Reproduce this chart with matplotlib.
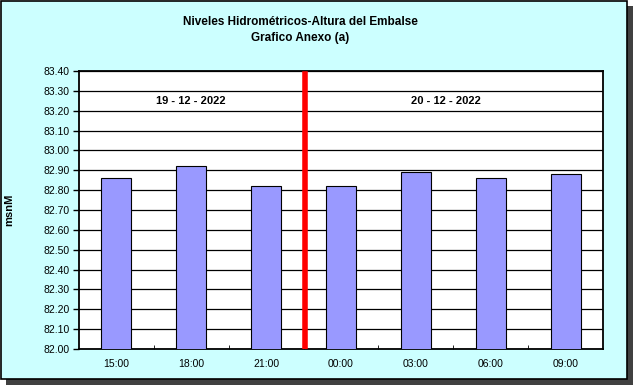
import matplotlib.pyplot as plt
from matplotlib.patches import Rectangle

# data
horas = ["15:00", "18:00", "21:00", "00:00", "03:00", "06:00", "09:00"]
niveles = [82.86, 82.92, 82.82, 82.82, 82.89, 82.86, 82.88]
y_ticks = [82.00 + 0.10 * i for i in range(15)]
fechas = ["19 - 12 - 2022", "20 - 12 - 2022"]

plt.rcParams['font.family'] = ['Liberation Sans', 'DejaVu Sans']

fig = plt.figure(figsize=(6.33, 3.85), dpi=100)
W, H = 633, 385

# frame with shadow
fig.patches.append(Rectangle((6 / W, 0), 627 / W, 379 / H, transform=fig.transFigure,
                             facecolor="#404040", edgecolor="none", zorder=-3))
fig.patches.append(Rectangle((1 / W, 6 / H), 626 / W, 378 / H, transform=fig.transFigure,
                             facecolor="#CCFFFF", edgecolor="black", linewidth=1.2, zorder=-2))

ax = fig.add_axes([79 / W, 1 - 349 / H, 524 / W, 278 / H])
ax.set_facecolor("white")

x = list(range(len(horas)))
ax.bar(x, niveles, width=0.4, color="#9999FF", edgecolor="black", linewidth=0.8, zorder=3)

ax.set_xlim(-0.5, len(horas) - 0.5)
ax.set_ylim(82.0, 83.4)
ax.set_yticks(y_ticks)
ax.set_yticklabels([f"{v:.2f}" for v in y_ticks], fontsize=7.5)
ax.set_xticks(x)
ax.set_xticklabels(horas, fontsize=7.5)
ax.set_xticks([i + 0.5 for i in x[:-1]], minor=True)
ax.tick_params(axis="x", which="major", length=0, pad=7)
ax.tick_params(axis="x", which="minor", length=3, direction="in")
ax.tick_params(axis="y", length=4, width=1, direction="out", pad=3)
ax.grid(axis="y", color="black", linewidth=0.9, zorder=0)
for s in ax.spines.values():
    s.set_linewidth(1.3)

# red separator between days
ax.axvline(2.52, ymin=0, ymax=0.99, color="red", linewidth=4, zorder=4)

ax.text(1, 83.25, fechas[0], ha="center", va="center", fontsize=8, fontweight="bold")
ax.text(4.4, 83.25, fechas[1], ha="center", va="center", fontsize=8, fontweight="bold")

fig.text(9 / W, 1 - 210 / H, "msnM", rotation=90, ha="center", va="center",
         fontsize=8, fontweight="bold")

fig.text(300 / W, 1 - 22 / H, "Niveles Hidrométricos-Altura del Embalse", ha="center",
         va="center", fontsize=8.5, fontweight="bold")
fig.text(300 / W, 1 - 38 / H, "Grafico Anexo (a)", ha="center", va="center",
         fontsize=8.5, fontweight="bold")

fig.savefig("out.png", dpi=100, facecolor="white")
